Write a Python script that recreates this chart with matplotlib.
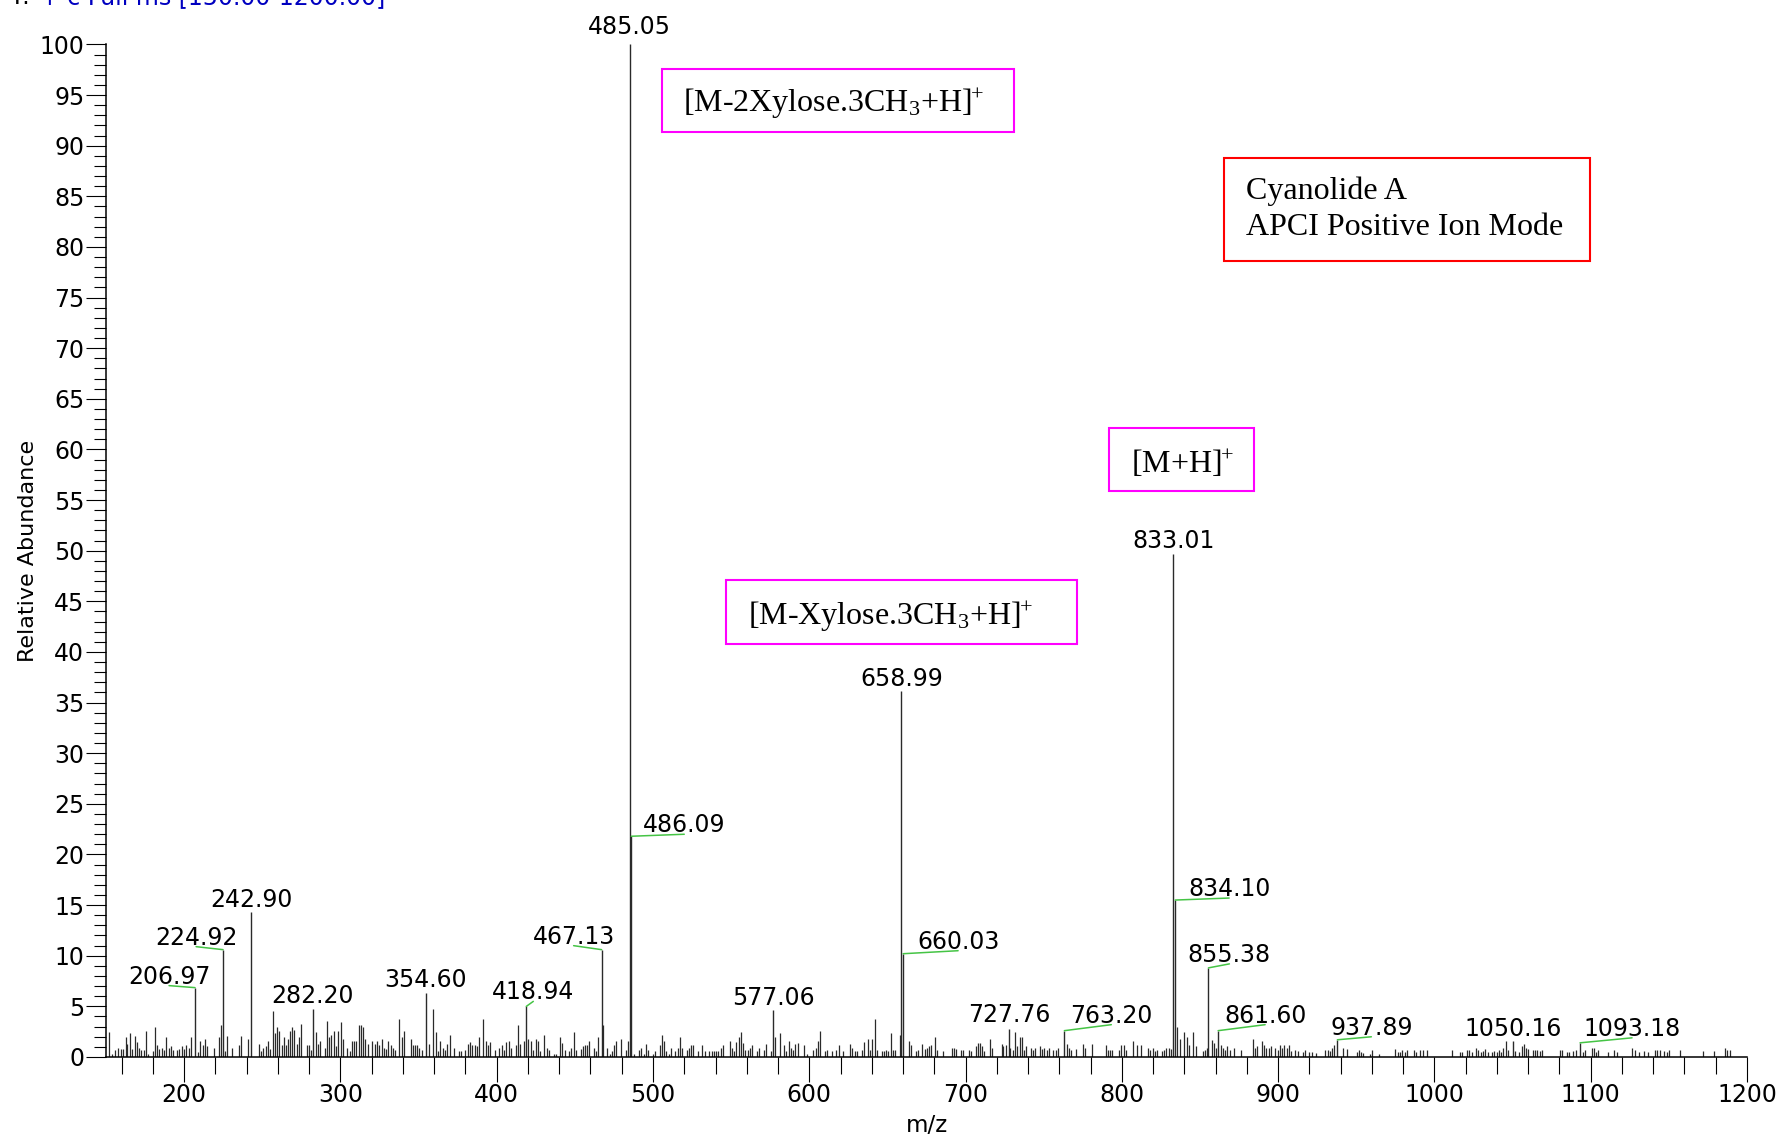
import numpy as np
import matplotlib
matplotlib.use('Agg')
import matplotlib.pyplot as plt
from matplotlib.patches import Rectangle
from matplotlib.ticker import MultipleLocator

plt.rcParams['font.family'] = ['DejaVu Sans']
plt.rcParams['mathtext.fontset'] = 'custom'
plt.rcParams['mathtext.rm'] = 'Liberation Serif'
plt.rcParams['mathtext.it'] = 'Liberation Serif:italic'
plt.rcParams['mathtext.bf'] = 'Liberation Serif:bold'

# labelled peaks (m/z, relative abundance)
label_mz = [206.97, 224.92, 242.90, 282.20, 354.60, 418.94, 467.13, 485.05, 486.09,
            577.06, 658.99, 660.03, 727.76, 763.20, 833.01, 834.10, 855.38, 861.60,
            937.89, 1050.16, 1093.18]
label_int = [6.85, 10.6, 14.3, 4.7, 6.3, 5.0, 10.6, 100.0, 21.8,
             4.6, 36.1, 10.2, 2.8, 2.6, 49.7, 15.5, 8.8, 2.6,
             1.7, 1.6, 1.4]

# label offsets from the peak top (pixels) and whether a green leader is drawn
label_dx = [-26, -27, 0, 0, 0, 7, -28, 0, 53, 0, 0, 55, 0, 47, 0, 54, 21, 47, 34, 0, 52]
label_dy = [4, 5, 5, 6, 6, 7, 6, 10, 4, 5, 5, 5, 7, 8, 6, 4, 6, 8, 5, 5, 7]
label_lead = [1, 1, 0, 0, 0, 1, 1, 0, 1, 0, 0, 1, 0, 1, 0, 1, 1, 1, 1, 0, 1]

# unlabelled peaks / noise
noise_mz = [152.1, 154.0, 155.5, 157.9, 159.4, 161.0, 162.6, 163.6, 165.1, 166.6, 168.3, 169.6,
            171.3, 172.6, 174.1, 175.6, 177.1, 179.9, 181.1, 182.9, 184.1, 185.6, 187.1, 188.6,
            190.1, 191.4, 192.6, 195.6, 196.9, 198.6, 199.9, 201.4, 202.9, 204.4, 208.9, 210.4,
            211.9, 213.3, 214.9, 219.1, 222.1, 223.4, 226.1, 227.6, 230.6, 234.9, 236.4, 240.8,
            247.7, 249.4, 250.7, 252.1, 253.6, 255.1, 256.6, 257.9, 259.2, 260.7, 262.4, 263.7,
            265.0, 266.5, 267.7, 269.0, 270.5, 272.0, 273.5, 274.8, 278.4, 279.9, 281.4, 284.2,
            285.6, 286.9, 289.9, 291.4, 292.9, 294.2, 295.7, 297.2, 298.4, 300.1, 301.4, 304.4,
            305.9, 307.2, 308.7, 310.2, 311.7, 313.0, 314.5, 316.0, 317.5, 320.5, 321.9, 323.4,
            324.9, 326.4, 327.9, 329.2, 330.7, 332.2, 333.7, 335.2, 337.7, 339.2, 340.7, 345.0,
            346.2, 347.7, 349.2, 350.5, 352.0, 356.7, 359.4, 360.9, 362.4, 363.9, 365.4, 366.9,
            368.4, 369.9, 372.6, 375.6, 376.9, 379.9, 381.4, 382.9, 384.4, 385.9, 387.1, 388.6,
            391.4, 392.9, 394.4, 395.9, 398.9, 401.6, 403.1, 404.6, 406.1, 407.6, 409.1, 412.1,
            413.5, 414.7, 417.7, 420.2, 421.7, 423.2, 424.9, 426.2, 427.5, 430.5, 432.0, 433.2,
            436.4, 437.7, 440.7, 442.0, 443.5, 446.5, 447.7, 449.2, 450.7, 453.7, 455.0, 456.3,
            457.8, 459.3, 462.0, 463.5, 465.0, 468.1, 470.8, 472.3, 473.5, 475.0, 476.5, 479.5,
            482.5, 483.8, 487.8, 491.0, 492.5, 494.0, 495.5, 497.0, 499.8, 501.3, 504.3, 505.5,
            507.0, 508.5, 510.0, 511.5, 514.3, 515.8, 517.3, 518.5, 521.5, 523.0, 524.3, 525.8,
            528.6, 531.6, 533.1, 536.0, 537.5, 539.0, 540.3, 541.8, 543.3, 544.8, 549.0, 550.3,
            551.8, 553.3, 554.8, 556.3, 557.8, 559.1, 560.6, 562.1, 563.5, 566.3, 567.8, 570.8,
            572.3, 575.3, 578.0, 581.0, 583.8, 585.3, 586.8, 588.1, 589.6, 591.1, 592.5, 596.8,
            598.3, 602.6, 604.1, 605.3, 607.1, 609.8, 611.3, 614.3, 617.3, 618.8, 621.6, 626.0,
            627.5, 629.0, 630.5, 633.5, 634.8, 637.6, 639.0, 640.3, 641.8, 643.3, 646.3, 647.8,
            649.3, 650.6, 652.1, 653.6, 655.1, 658.0, 663.8, 665.3, 668.3, 669.5, 672.3, 674.0,
            675.3, 676.8, 678.1, 680.6, 681.9, 685.3, 691.1, 692.6, 693.8, 696.8, 698.3, 702.4,
            703.6, 706.6, 707.9, 709.2, 710.5, 712.0, 715.4, 716.9, 723.1, 724.1, 725.8, 728.6,
            730.1, 731.4, 733.1, 734.6, 735.8, 737.3, 738.6, 741.6, 743.3, 744.6, 747.4, 748.9,
            750.3, 751.8, 753.1, 756.1, 757.6, 759.1, 764.6, 766.1, 767.6, 770.6, 774.9, 776.4,
            780.6, 789.6, 790.9, 792.4, 793.9, 798.3, 799.6, 801.1, 802.6, 806.9, 809.6, 812.4,
            816.9, 818.2, 819.7, 821.2, 822.6, 825.4, 826.9, 828.2, 829.9, 831.2, 835.4, 836.9,
            839.9, 841.4, 842.7, 845.7, 847.2, 851.7, 853.0, 854.2, 857.4, 858.7, 860.2, 863.2,
            864.4, 865.9, 867.4, 868.9, 871.9, 876.2, 883.6, 885.1, 886.4, 889.4, 890.9, 892.4,
            893.9, 895.2, 898.1, 899.6, 901.1, 902.6, 903.9, 905.4, 906.9, 908.4, 911.1, 912.6,
            915.6, 917.1, 919.9, 921.4, 924.4, 930.1, 931.6, 932.9, 934.4, 935.7, 941.6, 943.8,
            950.2, 951.7, 953.0, 954.5, 958.7, 960.2, 964.7, 974.7, 976.4, 977.9, 979.4, 981.1,
            982.4, 986.7, 988.0, 991.0, 992.4, 995.0, 1011.0, 1016.5, 1017.8, 1020.6, 1022.1, 1023.8,
            1026.6, 1028.1, 1029.6, 1031.0, 1032.3, 1034.0, 1036.8, 1038.3, 1039.8, 1041.3, 1042.6, 1044.0,
            1045.5, 1047.0, 1051.3, 1054.3, 1055.8, 1057.1, 1058.6, 1060.0, 1062.8, 1064.3, 1065.8, 1067.3,
            1068.6, 1080.3, 1081.8, 1084.8, 1086.1, 1088.8, 1090.3, 1094.8, 1096.3, 1100.6, 1101.8, 1103.3,
            1104.8, 1110.8, 1115.1, 1116.6, 1126.6, 1128.1, 1131.1, 1134.0, 1136.8, 1141.1, 1142.6, 1144.1,
            1147.1, 1148.6, 1150.0, 1157.1, 1171.6, 1178.8, 1185.9, 1187.4, 1189.1]
noise_int = [2.5, 0.3, 0.7, 0.9, 0.8, 0.75, 2.0, 1.3, 2.4, 0.8, 2.1, 1.5,
             0.9, 0.7, 0.65, 2.6, 0.3, 0.6, 3.0, 1.15, 0.8, 0.9, 0.7, 2.0,
             0.9, 1.05, 0.7, 0.7, 0.8, 1.05, 0.8, 1.15, 0.9, 2.0, 0.45, 1.6,
             1.15, 1.8, 1.05, 0.9, 2.0, 3.2, 0.6, 2.1, 0.9, 1.15, 2.1, 1.8,
             1.3, 0.6, 0.9, 1.05, 1.6, 0.8, 4.5, 2.4, 3.0, 2.6, 1.15, 2.0,
             1.15, 1.8, 2.6, 3.0, 2.7, 1.3, 2.0, 3.3, 1.15, 1.15, 0.65, 2.5,
             1.3, 1.6, 0.9, 3.6, 2.0, 2.2, 2.6, 1.05, 2.6, 3.45, 1.8, 0.9,
             0.6, 1.6, 1.6, 1.6, 3.2, 3.2, 3.0, 1.8, 1.3, 1.6, 1.3, 1.6,
             1.15, 1.8, 0.9, 0.8, 1.6, 1.15, 0.9, 0.7, 3.8, 2.0, 2.6, 1.8,
             1.15, 1.15, 1.15, 0.9, 0.7, 1.3, 4.7, 2.5, 0.6, 1.6, 0.9, 0.7,
             1.3, 2.2, 0.9, 0.6, 0.6, 0.7, 1.3, 1.5, 1.15, 1.15, 1.05, 2.0,
             3.8, 1.6, 1.15, 1.5, 0.7, 0.9, 1.15, 0.7, 1.5, 1.6, 0.9, 1.15,
             3.2, 1.3, 1.6, 1.8, 1.6, 0.7, 1.8, 1.6, 0.6, 2.2, 0.9, 0.7,
             0.3, 0.3, 2.0, 1.4, 0.7, 0.6, 0.9, 2.5, 0.7, 0.8, 1.05, 1.15,
             1.15, 1.6, 0.9, 0.6, 2.0, 3.2, 0.9, 0.3, 0.6, 1.15, 1.6, 1.8,
             0.7, 1.6, 0.25, 0.7, 0.9, 0.3, 1.3, 0.7, 0.3, 0.6, 1.15, 2.2,
             1.6, 0.6, 0.3, 0.9, 0.6, 0.9, 2.0, 0.9, 0.7, 0.9, 1.15, 1.15,
             0.6, 1.15, 0.6, 0.6, 0.6, 0.6, 0.6, 0.6, 0.9, 1.15, 1.6, 0.9,
             0.6, 1.5, 2.0, 2.5, 1.4, 0.7, 0.7, 0.9, 1.15, 0.6, 0.9, 0.7,
             1.3, 0.6, 2.0, 2.4, 1.15, 0.6, 1.6, 0.9, 0.7, 1.3, 1.4, 1.15,
             0.3, 0.7, 0.9, 1.6, 2.6, 0.6, 0.7, 0.6, 0.7, 1.15, 0.6, 1.3,
             0.9, 0.6, 0.6, 0.7, 1.5, 1.8, 0.7, 1.8, 3.8, 0.7, 0.6, 0.6,
             0.7, 0.6, 2.4, 0.7, 0.7, 2.2, 1.6, 1.15, 0.6, 0.7, 1.3, 0.8,
             0.9, 1.05, 1.15, 2.0, 0.7, 0.6, 0.9, 0.9, 0.8, 0.7, 0.7, 0.7,
             0.6, 1.05, 1.4, 1.4, 1.05, 0.6, 1.8, 0.9, 1.3, 1.05, 1.15, 0.9,
             0.7, 2.5, 1.05, 2.0, 2.0, 0.65, 1.05, 0.9, 0.7, 0.9, 1.05, 0.8,
             0.9, 0.7, 0.9, 0.7, 0.7, 0.9, 1.3, 0.9, 0.7, 0.8, 1.3, 0.9,
             1.3, 1.15, 0.65, 0.65, 0.7, 0.7, 1.15, 1.15, 0.7, 1.6, 1.15, 1.15,
             0.9, 0.7, 0.9, 0.6, 0.7, 0.6, 0.7, 0.9, 0.9, 0.8, 3.0, 1.8,
             2.5, 2.0, 1.15, 2.5, 1.05, 0.6, 0.7, 0.9, 1.65, 1.4, 0.9, 1.15,
             0.9, 0.7, 1.05, 0.7, 0.9, 0.7, 1.8, 0.9, 1.05, 1.6, 1.15, 0.9,
             0.9, 1.05, 0.9, 0.7, 1.15, 0.9, 1.15, 0.9, 1.15, 0.6, 0.7, 0.6,
             0.5, 0.7, 0.5, 0.5, 0.4, 0.7, 0.7, 0.6, 0.9, 1.15, 0.9, 0.8,
             0.45, 0.65, 0.5, 0.35, 0.3, 0.7, 0.3, 0.8, 0.5, 0.5, 0.65, 0.45,
             0.7, 0.65, 0.45, 0.65, 0.7, 0.65, 0.65, 0.45, 0.5, 0.65, 0.7, 0.45,
             0.9, 0.65, 0.5, 0.6, 0.8, 0.5, 0.45, 0.6, 0.45, 0.7, 0.5, 0.9,
             1.6, 0.65, 0.6, 0.45, 1.05, 1.3, 0.9, 0.8, 0.65, 0.7, 0.65, 0.6,
             0.65, 0.7, 0.65, 0.5, 0.45, 0.6, 0.65, 0.5, 0.7, 0.9, 0.9, 0.5,
             0.65, 0.45, 0.7, 0.5, 0.9, 0.65, 0.5, 0.6, 0.5, 0.7, 0.7, 0.7,
             0.6, 0.45, 0.65, 0.65, 0.6, 0.6, 0.9, 0.7, 0.65]

# ion annotation boxes: text, left/right, bottom/top (data coords), text anchor
box_texts = [r'[M-2Xylose.3CH$_3$+H]$^{\!\!+}$', r'[M-Xylose.3CH$_3$+H]$^{\!\!+}$',
             r'[M+H]$^{\!\!+}$']
box_x = [(505.9, 730.8), (546.7, 771.6), (792.0, 884.4)]
box_y = [(91.35, 97.6), (40.8, 47.1), (55.85, 62.1)]
box_text_xy = [(519.4, 93.3), (560.5, 42.7), (806.0, 57.7)]

info_lines = ['Cyanolide A', 'APCI Positive Ion Mode']

W, H = 1784, 1137
fig = plt.figure(figsize=(W / 100, H / 100), dpi=100)
ax = fig.add_axes([106 / W, 80 / H, 1641 / W, 1012.6 / H])

peak_color = '#2a2a2a'
ax.vlines(noise_mz, 0, noise_int, color=peak_color, lw=0.9)
ax.vlines(label_mz, 0, label_int, color=peak_color, lw=1.0)

for mz, h, dx, dy, lead in zip(label_mz, label_int, label_dx, label_dy, label_lead):
    if lead:
        ax.annotate('', xy=(mz, h), xytext=(dx, dy - 2), textcoords='offset pixels',
                    arrowprops=dict(arrowstyle='-', color='#45c445', lw=1.1,
                                    shrinkA=0, shrinkB=0))
    ax.annotate(f'{mz:.2f}', xy=(mz, h), xytext=(dx, dy), textcoords='offset pixels',
                ha='center', va='baseline', fontsize=17, annotation_clip=False)

serif = 'Liberation Serif'
for txt, (x0, x1), (y0, y1), (tx, ty) in zip(box_texts, box_x, box_y, box_text_xy):
    ax.add_patch(Rectangle((x0, y0), x1 - x0, y1 - y0, fill=False,
                           edgecolor='#ff00ff', lw=1.5, clip_on=False))
    ax.text(tx, ty, txt, family=serif, fontsize=23, ha='left', va='baseline')

ax.add_patch(Rectangle((865.3, 78.6), 1099.5 - 865.3, 88.8 - 78.6, fill=False,
                       edgecolor='#ff0000', lw=1.5, clip_on=False))
ax.text(879.4, 84.7, info_lines[0], family=serif, fontsize=23, va='baseline')
ax.text(879.4, 81.2, info_lines[1], family=serif, fontsize=23, va='baseline')

ax.set_xlim(150, 1200)
ax.set_ylim(0, 100)
ax.spines['top'].set_visible(False)
ax.spines['right'].set_visible(False)
ax.spines['left'].set_linewidth(1.1)
ax.spines['bottom'].set_linewidth(1.1)

ax.xaxis.set_major_locator(MultipleLocator(100))
ax.xaxis.set_minor_locator(MultipleLocator(20))
ax.yaxis.set_major_locator(MultipleLocator(5))
ax.yaxis.set_minor_locator(MultipleLocator(1))
ax.tick_params(axis='y', which='major', length=14.4, width=0.8, labelsize=17, pad=1.2)
ax.tick_params(axis='y', which='minor', length=8.6, width=0.8)
ax.tick_params(axis='x', which='major', length=18, width=0.8, labelsize=17, pad=0.5)
ax.tick_params(axis='x', which='minor', length=12, width=0.8)

ax.set_ylabel('Relative Abundance', fontsize=16)
ax.yaxis.set_label_coords(-0.0414, 0.5)
ax.set_xlabel('m/z', fontsize=16.5)
ax.xaxis.set_label_coords(0.5, -0.0563)

# header line, cut off at the top edge as in the original export
fig.text(10 / W, 1 - 4 / H, 'T:', fontsize=17, color='black', va='baseline')
fig.text(40 / W, 1 - 4 / H, '+ c Full ms [150.00-1200.00]', fontsize=17,
         color='#0000c0', va='baseline')

fig.savefig('out.png', dpi=100)
